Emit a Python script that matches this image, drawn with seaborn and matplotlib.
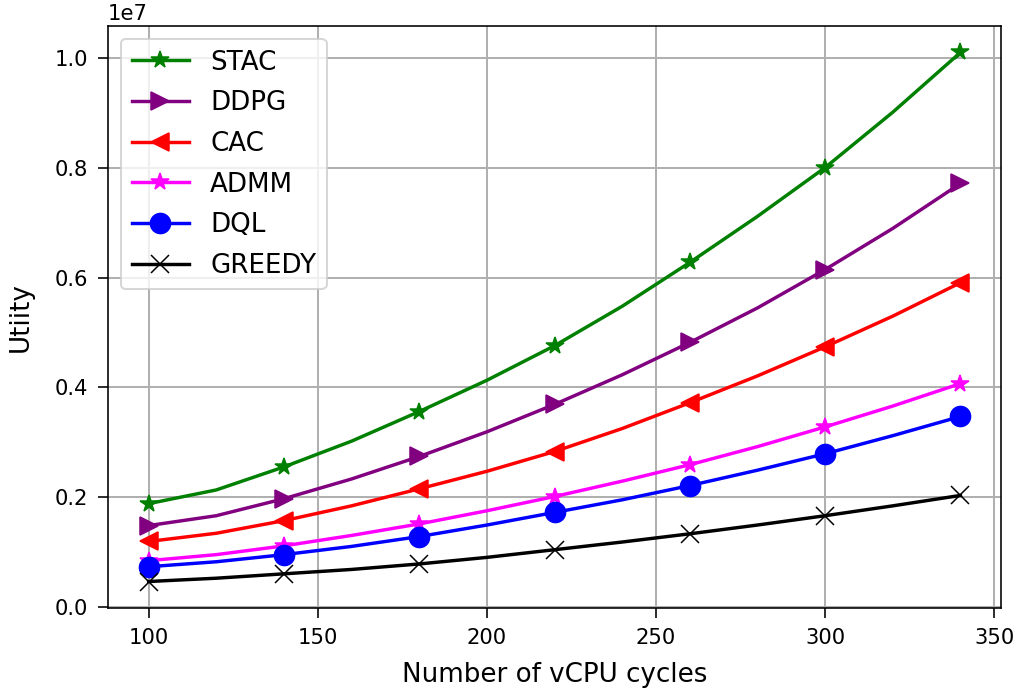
import matplotlib
matplotlib.use('Agg')
import matplotlib.pyplot as plt
import numpy as np
import pandas as pd
import seaborn as sns

# vCPU cycles (markers drawn every other point)
cycles = [100, 120, 140, 160, 180, 200, 220, 240, 260, 280, 300, 320, 340]

# Utility values, in units of 1e6
stac = [1.88, 2.13, 2.55, 3.02, 3.56, 4.13, 4.76, 5.48, 6.28, 7.12, 8.01, 9.02, 10.11]
ddpg = [1.48, 1.66, 1.97, 2.33, 2.74, 3.19, 3.69, 4.23, 4.82, 5.45, 6.15, 6.90, 7.72]
cac = [1.19, 1.34, 1.57, 1.84, 2.15, 2.47, 2.83, 3.25, 3.72, 4.21, 4.74, 5.30, 5.91]
admm = [0.84, 0.95, 1.11, 1.30, 1.51, 1.75, 2.01, 2.29, 2.59, 2.92, 3.28, 3.66, 4.07]
dql = [0.73, 0.82, 0.95, 1.10, 1.28, 1.49, 1.72, 1.95, 2.21, 2.49, 2.79, 3.12, 3.47]
greedy = [0.46, 0.52, 0.60, 0.68, 0.78, 0.90, 1.04, 1.18, 1.33, 1.49, 1.66, 1.84, 2.03]

names = ['STAC', 'DDPG', 'CAC', 'ADMM', 'DQL', 'GREEDY']
series = [stac, ddpg, cac, admm, dql, greedy]
colors = ['green', 'purple', 'red', 'magenta', 'blue', 'black']
markers = ['*', '>', '<', '*', 'o', 'x']
msizes = [9, 8.5, 8.5, 9, 10, 9]

fig = plt.figure(figsize=(1022 / 145, 698 / 145), dpi=145)
ax = fig.add_axes([0.1057, 0.129, 0.9795 - 0.1057, 0.9628 - 0.129])

for name, vals, col, mk, ms in zip(names, series, colors, markers, msizes):
    df = pd.DataFrame({'x': cycles, 'y': np.array(vals) * 1e6})
    sns.lineplot(data=df, x='x', y='y', ax=ax, color=col, marker=mk,
                 markersize=ms, markevery=2, linewidth=1.7,
                 markeredgecolor=col, label=name)

ax.grid(True, color='#b0b0b0', linewidth=1.0)
ax.set_xlabel('Number of vCPU cycles', fontsize=13, labelpad=7)
ax.set_ylabel('Utiity', fontsize=13, labelpad=10)
ax.tick_params(labelsize=10.5, length=5, pad=5)
ax.set_yticks([0, 2e6, 4e6, 6e6, 8e6, 10e6])
ax.ticklabel_format(axis='y', style='sci', scilimits=(0, 0))
ax.yaxis.get_offset_text().set_fontsize(10.5)
for s in ax.spines.values():
    s.set_color('black')
ax.legend(loc='upper left', fontsize=13, handlelength=2.2, labelspacing=0.56)

fig.savefig('out.png', dpi=145)
